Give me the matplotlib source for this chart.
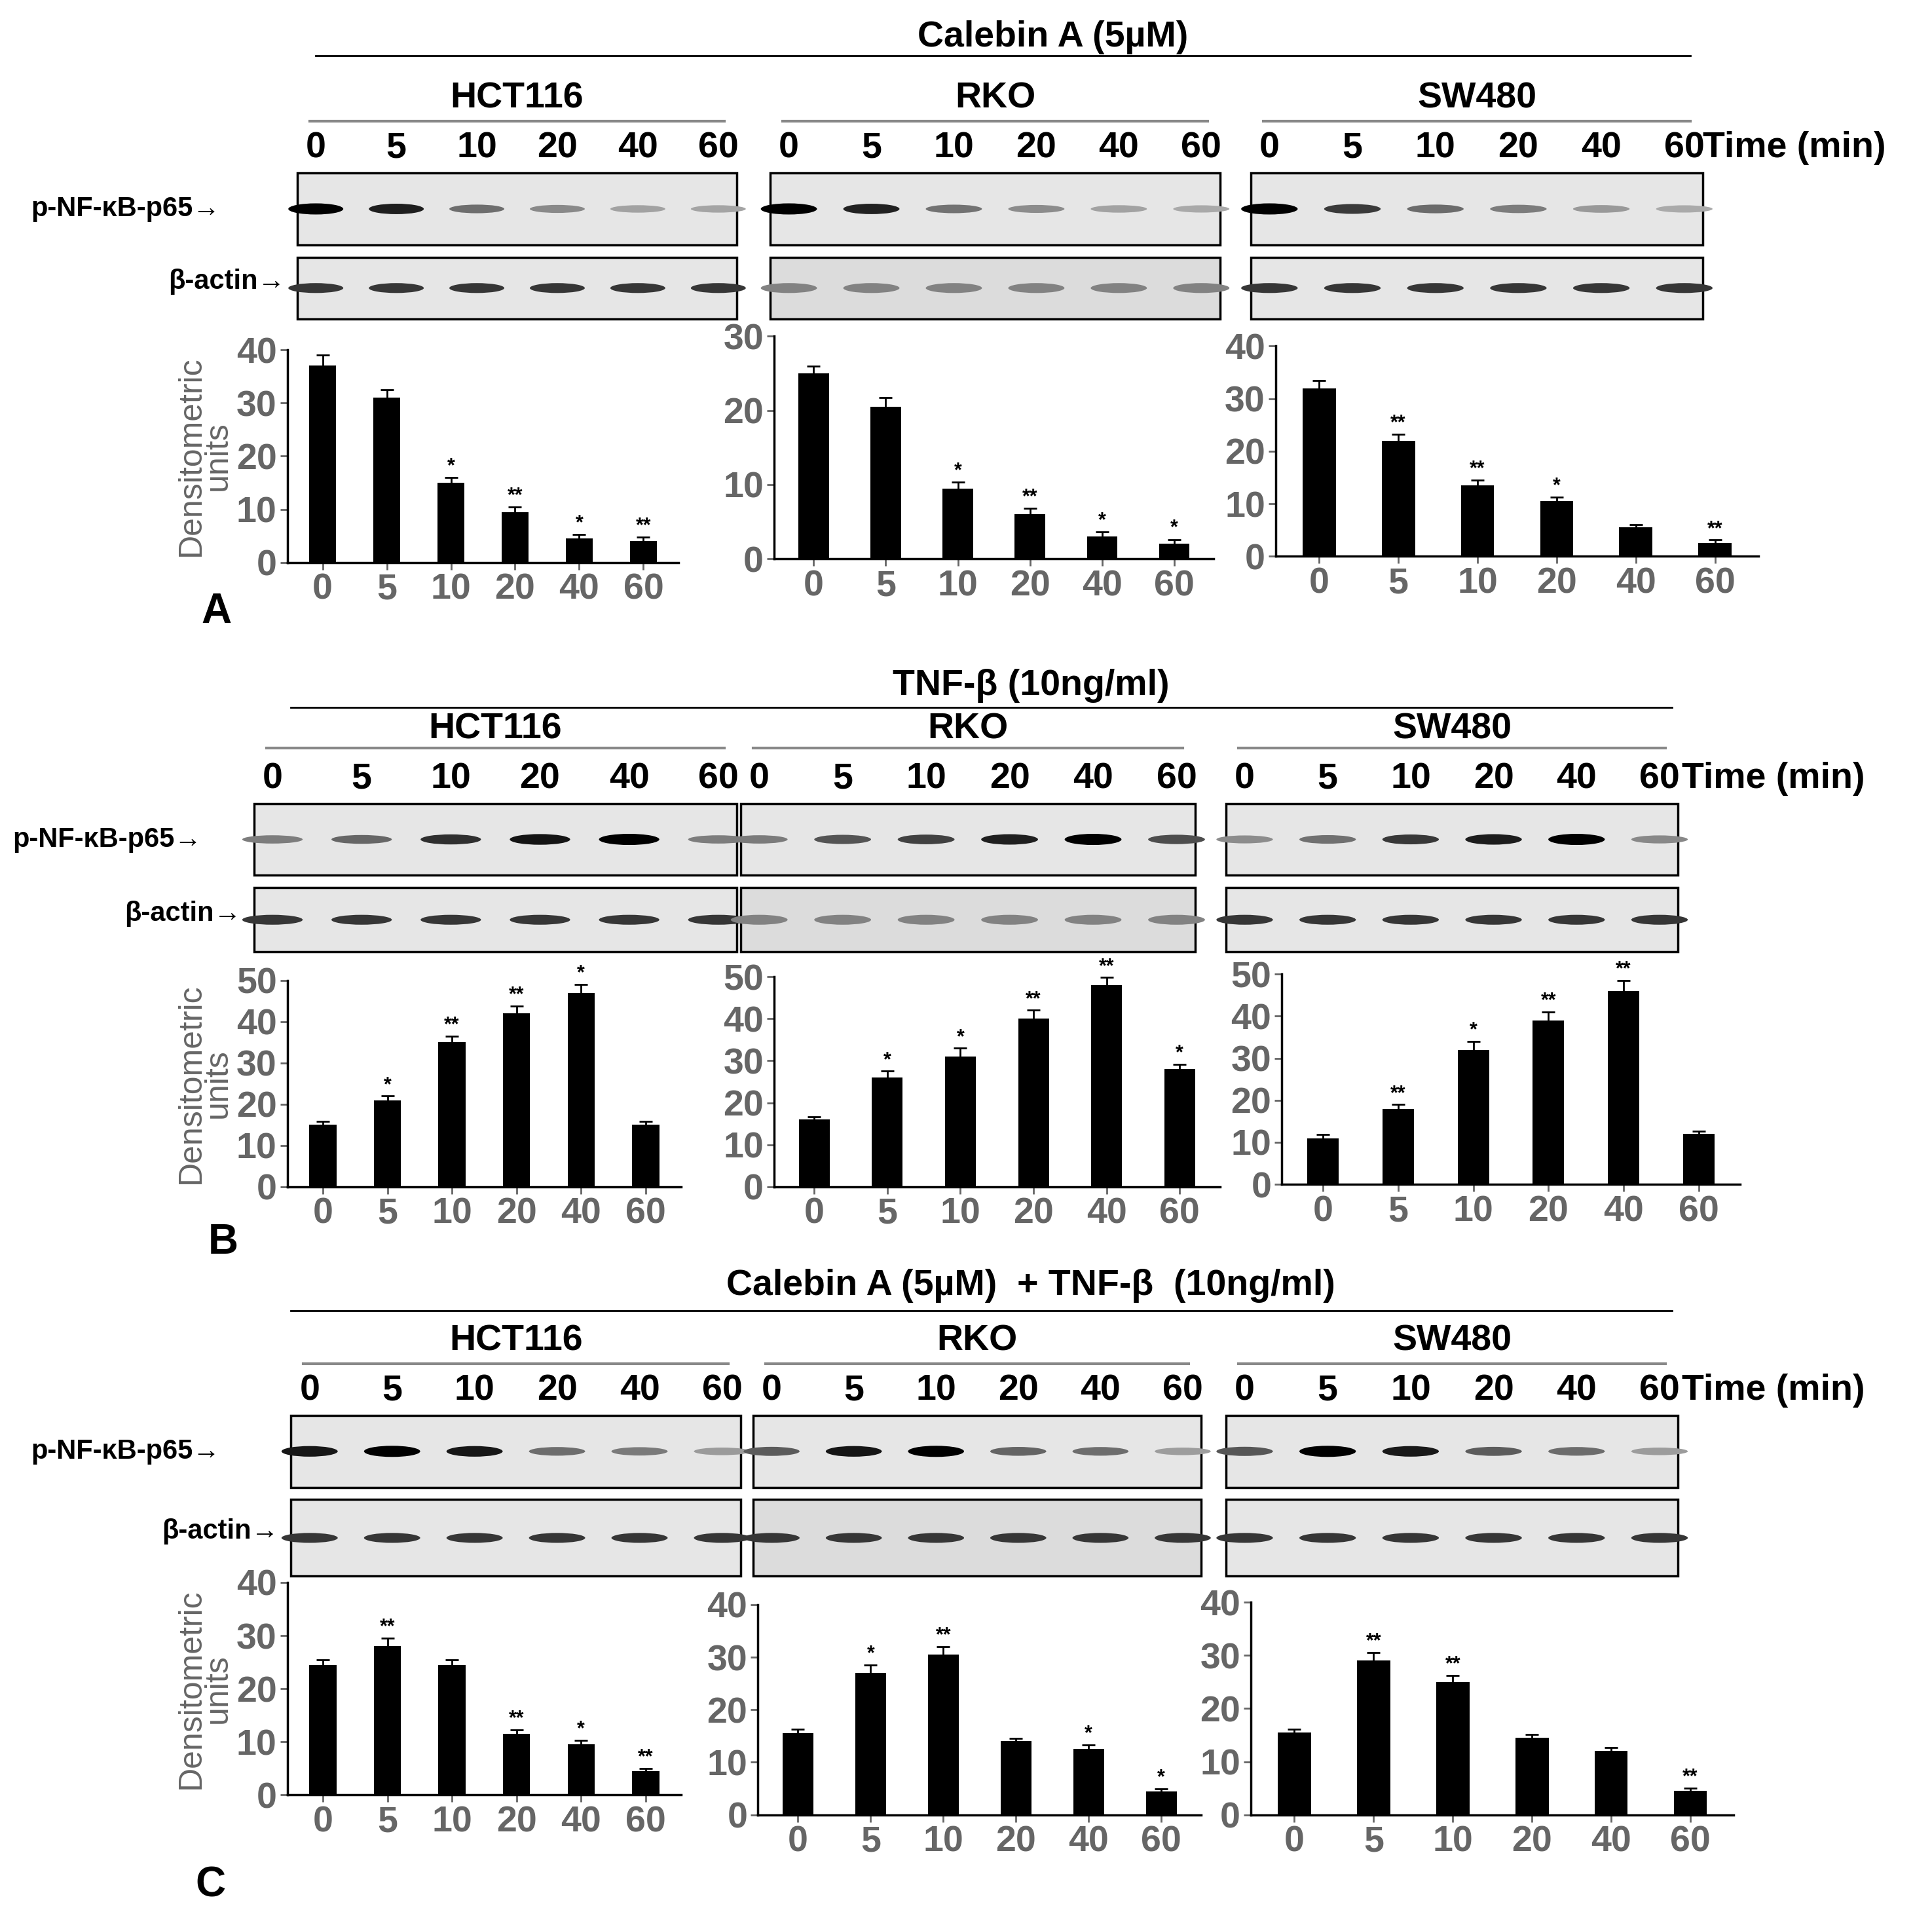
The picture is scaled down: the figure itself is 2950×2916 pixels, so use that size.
import matplotlib
matplotlib.use('Agg')
import matplotlib.pyplot as plt
from matplotlib.patches import Ellipse, Rectangle

plt.rcParams['font.family'] = ['Liberation Sans', 'DejaVu Sans']
plt.rcParams['font.weight'] = 'bold'

W, H = 1560, 1545  # reference layout units

times = ['0', '5', '10', '20', '40', '60']
cells = ['HCT116', 'RKO', 'SW480']
titles = ['Calebin A (5\u00b5M)', 'TNF-\u03b2 (10ng/ml)', 'Calebin A (5\u00b5M)  + TNF-\u03b2  (10ng/ml)']
panel_letters = ['A', 'B', 'C']

# densitometric values per treatment / cell line
vals_A = [[37, 31, 15, 9.5, 4.5, 4], [25, 20.5, 9.5, 6, 3, 2], [32, 22, 13.5, 10.5, 5.5, 2.5]]
vals_B = [[15, 21, 35, 42, 47, 15], [16, 26, 31, 40, 48, 28], [11, 18, 32, 39, 46, 12]]
vals_C = [[24.5, 28, 24.5, 11.5, 9.5, 4.5], [15.5, 27, 30.5, 14, 12.5, 4.5], [15.5, 29, 25, 14.5, 12, 4.5]]
errs_A = [[2, 1.5, 1, 1, 0.8, 0.8], [1, 1.2, 0.8, 0.8, 0.6, 0.6], [1.5, 1.2, 1, 0.8, 0.5, 0.6]]
errs_B = [[0.8, 1, 1.5, 1.8, 2, 0.8], [0.6, 1.5, 2, 2, 1.8, 1.2], [0.8, 1, 2, 2, 2.5, 0.6]]
errs_C = [[1, 1.5, 1, 0.8, 0.8, 0.5], [0.8, 1.5, 1.5, 0.6, 0.8, 0.5], [0.6, 1.5, 1.2, 0.6, 0.6, 0.5]]
sig_A = [['', '', '*', '**', '*', '**'], ['', '', '*', '**', '*', '*'], ['', '**', '**', '*', '', '**']]
sig_B = [['', '*', '**', '**', '*', ''], ['', '*', '*', '**', '**', '*'], ['', '**', '*', '**', '**', '']]
sig_C = [['', '**', '', '**', '*', '**'], ['', '*', '**', '', '*', '*'], ['', '**', '**', '', '', '**']]
ymax = [[40, 30, 40], [50, 50, 50], [40, 40, 40]]

all_vals = [vals_A, vals_B, vals_C]
all_errs = [errs_A, errs_B, errs_C]
all_sig = [sig_A, sig_B, sig_C]

# layout in reference units
sec = [
    dict(title_y=30, line_y=45, line_x=(255, 1365), name_y=80, under_y=98, time_y=120,
         blot_y=(140, 198), act_y=(208, 258),
         blot_x=[(20, 240, 595), (None, 622, 985), (None, 1010, 1375)],
         bars=[(232, 548, 283, 455), (625, 980, 272, 452), (1030, 1420, 280, 450)],
         letter=(175, 495), time_lbl_x=1375),
    dict(title_y=555, line_y=572, line_x=(235, 1350), name_y=590, under_y=605, time_y=630,
         blot_y=(650, 708), act_y=(718, 770),
         blot_x=[(5, 205, 595), (None, 598, 965), (None, 990, 1355)],
         bars=[(232, 550, 793, 960), (625, 985, 790, 960), (1035, 1405, 788, 958)],
         letter=(180, 1005), time_lbl_x=1358),
    dict(title_y=1040, line_y=1060, line_x=(235, 1350), name_y=1085, under_y=1103, time_y=1125,
         blot_y=(1145, 1203), act_y=(1213, 1275),
         blot_x=[(20, 235, 598), (None, 608, 970), (None, 990, 1355)],
         bars=[(232, 550, 1280, 1452), (612, 970, 1298, 1468), (1010, 1400, 1296, 1468)],
         letter=(170, 1525), time_lbl_x=1358),
]

fig = plt.figure(figsize=(29.5, 29.16), dpi=100)
ov = fig.add_axes([0, 0, 1, 1])
ov.set_xlim(0, W)
ov.set_ylim(H, 0)
ov.axis('off')

FS = 40
gray = '#666666'

for si, s in enumerate(sec):
    ov.text(sum(s['line_x']) / 2 + 40, s['title_y'], titles[si], ha='center', va='center', fontsize=FS)
    ov.plot(s['line_x'], [s['line_y']] * 2, color='black', lw=2)
    for ci in range(3):
        lab, bx0, bx1 = s['blot_x'][ci]
        lanes = [bx0 + 15 + (bx1 - bx0 - 30) * i / 5 for i in range(6)]
        ov.text((bx0 + bx1) / 2, s['name_y'], cells[ci], ha='center', va='center', fontsize=FS)
        ov.plot([bx0 + 10, bx1 - 10], [s['under_y']] * 2, color='#888888', lw=3)
        for t, x in zip(times, lanes):
            ov.text(x, s['time_y'], t, ha='center', va='center', fontsize=FS)
        # blots
        v = all_vals[si][ci]
        vm = max(v)
        for (y0, y1), kind in ((s['blot_y'], 'p65'), (s['act_y'], 'actin')):
            bg = '#e6e6e6' if kind == 'p65' or ci != 1 else '#dcdcdc'
            ov.add_patch(Rectangle((bx0, y0), bx1 - bx0, y1 - y0, facecolor=bg, edgecolor='black', lw=2.5))
            for i, x in enumerate(lanes):
                if kind == 'p65':
                    d = 0.15 + 0.85 * v[i] / vm
                    h = 5 + 4 * d
                else:
                    d = 0.75 if ci != 1 or si == 2 else 0.4
                    h = 8
                c = str(max(0.0, 0.85 - 0.85 * d))
                ov.add_patch(Ellipse((x, (y0 + y1) / 2), (bx1 - bx0) / 8, h, facecolor=c, edgecolor='none'))
        if ci == 0:
            ov.text(lab + 5, sum(s['blot_y']) / 2, 'p-NF-\u03baB-p65\u2192', ha='left', va='center', fontsize=30)
            ov.text(bx0 - 10, sum(s['act_y']) / 2 - 5, '\u03b2-actin\u2192', ha='right', va='center', fontsize=30)
    ov.text(s['time_lbl_x'], s['time_y'], 'Time (min)', ha='left', va='center', fontsize=FS)
    ov.text(*s['letter'], panel_letters[si], ha='center', va='center', fontsize=46)

    # bar charts
    for ci in range(3):
        x0, x1, yt, yb = s['bars'][ci]
        ax = fig.add_axes([x0 / W, 1 - yb / H, (x1 - x0) / W, (yb - yt) / H])
        v = all_vals[si][ci]
        e = all_errs[si][ci]
        pos = range(len(times))
        ax.bar(pos, v, width=0.42, color='black', yerr=e, capsize=7,
               error_kw=dict(ecolor='black', elinewidth=2, capthick=2))
        for i, sg in enumerate(all_sig[si][ci]):
            if sg:
                ax.text(i, v[i] + e[i] + 0.2, sg, ha='center', va='bottom', fontsize=22)
        ax.set_ylim(0, ymax[si][ci])
        ax.set_yticks(range(0, ymax[si][ci] + 1, 10))
        ax.set_xlim(-0.55, 5.55)
        ax.set_xticks(list(pos))
        ax.set_xticklabels(times)
        for sp in ('top', 'right'):
            ax.spines[sp].set_visible(False)
        for sp in ('left', 'bottom'):
            ax.spines[sp].set_linewidth(2.5)
        ax.tick_params(labelsize=FS, colors=gray, width=2, length=8)
        if ci == 0:
            ax.set_ylabel('Densitometric\nunits', fontsize=36, color=gray, fontweight='normal',
                          linespacing=0.85, labelpad=4)

fig.savefig('out.png', dpi=100)
